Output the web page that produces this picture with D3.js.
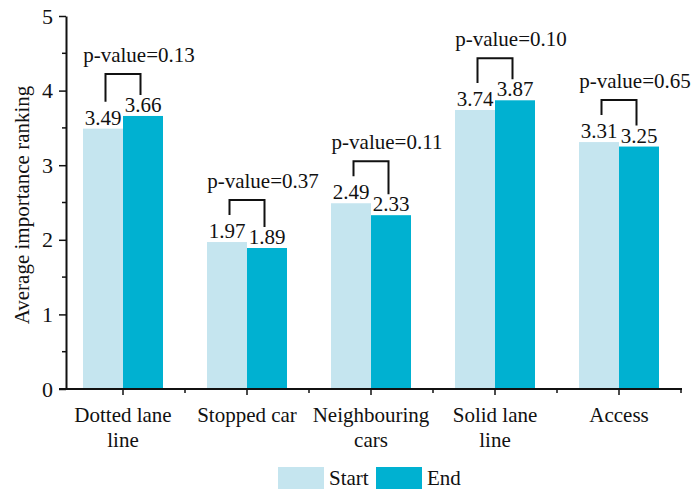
<!DOCTYPE html>
<html>
<head>
<meta charset="utf-8">
<script src="https://cdn.jsdelivr.net/npm/d3@7"></script>
<style>
  html, body { margin: 0; padding: 0; background: #fff; }
  svg text { font-family: "Liberation Serif", "Times New Roman", serif; fill: #111; }
</style>
</head>
<body>
<svg id="chart" width="692" height="490"></svg>
<script>
// Average importance ranking at the start and end of the study
const categories = ["Dotted lane line", "Stopped car", "Neighbouring cars", "Solid lane line", "Access"];
const categoryLines = [["Dotted lane", "line"], ["Stopped car"], ["Neighbouring", "cars"], ["Solid lane", "line"], ["Access"]];
const series = ["Start", "End"];
const startValues = [3.49, 1.97, 2.49, 3.74, 3.31];
const endValues = [3.66, 1.89, 2.33, 3.87, 3.25];
const pValues = ["0.13", "0.37", "0.11", "0.10", "0.65"];
const yTicks = [0, 1, 2, 3, 4, 5];
const yMinorTicks = [0.5, 1.5, 2.5, 3.5, 4.5];
const colors = { Start: "#c5e5ef", End: "#00b1d1" };

const svg = d3.select("#chart");
const plot = { left: 66, right: 682, top: 16, bottom: 389 };

const x = d3.scaleBand().domain(categories).range([61, 681]).paddingInner(0).paddingOuter(0);
const groupW = 80;
const xs = d3.scaleBand().domain(series)
  .range([(x.bandwidth() - groupW) / 2, (x.bandwidth() + groupW) / 2]).padding(0);
const y = d3.scaleLinear().domain([0, 5]).range([plot.bottom, plot.top]);

const rows = categories.map((c, i) => ({ cat: c, Start: startValues[i], End: endValues[i], p: pValues[i], lines: categoryLines[i] }));

// bars
const groups = svg.append("g").selectAll("g").data(rows).join("g")
  .attr("transform", d => `translate(${x(d.cat)},0)`);
groups.selectAll("rect").data(d => series.map(s => ({ s, v: d[s] }))).join("rect")
  .attr("x", d => xs(d.s))
  .attr("width", xs.bandwidth())
  .attr("y", d => y(d.v))
  .attr("height", d => y(0) - y(d.v))
  .attr("fill", d => colors[d.s]);

// value labels
groups.selectAll("text.val").data(d => series.map(s => ({ s, v: d[s] }))).join("text")
  .attr("class", "val")
  .attr("x", d => xs(d.s) + xs.bandwidth() / 2)
  .attr("y", d => y(d.v) - 4)
  .attr("text-anchor", "middle")
  .attr("font-size", 21)
  .text(d => d.v.toFixed(2));

// significance brackets
groups.each(function (d) {
  const g = d3.select(this);
  const cx = x.bandwidth() / 2;
  const top = y(Math.max(d.Start, d.End)) - 42;
  const lx = cx - 17.5, rx = cx + 17.5;
  g.append("path")
    .attr("d", `M${lx},${y(d.Start) - 27}V${top}H${rx}V${y(d.End) - 21}`)
    .attr("fill", "none").attr("stroke", "#111").attr("stroke-width", 2);
  g.append("text")
    .attr("x", cx + 16).attr("y", top - 12)
    .attr("text-anchor", "middle").attr("font-size", 21)
    .text(`p-value=${d.p}`);
});

// y axis
const yAxis = d3.axisLeft(y).tickValues(yTicks).tickSize(7).tickSizeOuter(0).tickPadding(6).tickFormat(d3.format("d"));
const yg = svg.append("g").attr("transform", `translate(${plot.left},0)`).call(yAxis);
yg.select(".domain").attr("stroke", "#111").attr("stroke-width", 2);
yg.selectAll(".tick line").attr("stroke", "#111").attr("stroke-width", 1.5);
yg.selectAll(".tick text").attr("font-size", 22).attr("font-family", "Liberation Serif, serif").attr("fill", "#111");
yg.selectAll(".minor").data(yMinorTicks).join("line").attr("class", "minor")
  .attr("x1", -4).attr("x2", 0).attr("y1", d => y(d)).attr("y2", d => y(d))
  .attr("stroke", "#111").attr("stroke-width", 1.5);

// x axis
const xAxis = d3.axisBottom(x).tickSize(6).tickSizeOuter(0).tickFormat("");
const xg = svg.append("g").attr("transform", `translate(0,${plot.bottom})`).call(xAxis);
xg.select(".domain").attr("d", `M${plot.left - 7},0H${plot.right}`).attr("stroke", "#111").attr("stroke-width", 2);
xg.selectAll(".tick line").attr("stroke", "#111").attr("stroke-width", 1.5);
const bounds = categories.map(c => x(c) + x.bandwidth());
xg.selectAll(".minor").data(bounds).join("line").attr("class", "minor")
  .attr("x1", d => d).attr("x2", d => d).attr("y1", 0).attr("y2", 4)
  .attr("stroke", "#111").attr("stroke-width", 1.5);

// category labels
svg.append("g").selectAll("text").data(rows).join("text")
  .attr("x", d => x(d.cat) + x.bandwidth() / 2)
  .attr("y", 422)
  .attr("text-anchor", "middle")
  .attr("font-size", 21)
  .selectAll("tspan").data(d => d.lines.map(l => ({ l, cx: x(d.cat) + x.bandwidth() / 2 }))).join("tspan")
  .attr("x", d => d.cx)
  .attr("dy", (d, i) => i === 0 ? 0 : 25)
  .text(d => d.l);

// y axis title
svg.append("text")
  .attr("transform", `translate(29,205) rotate(-90)`)
  .attr("text-anchor", "middle")
  .attr("font-size", 21)
  .text("Average importance ranking");

// legend
const legend = svg.append("g");
const legendItems = [{ s: "Start", x: 278 }, { s: "End", x: 376 }];
legendItems.forEach(it => {
  legend.append("rect").attr("x", it.x).attr("y", 467).attr("width", 46).attr("height", 22).attr("fill", colors[it.s]);
  legend.append("text").attr("x", it.x + 51).attr("y", 485).attr("font-size", 21).text(it.s);
});
</script>
</body>
</html>
